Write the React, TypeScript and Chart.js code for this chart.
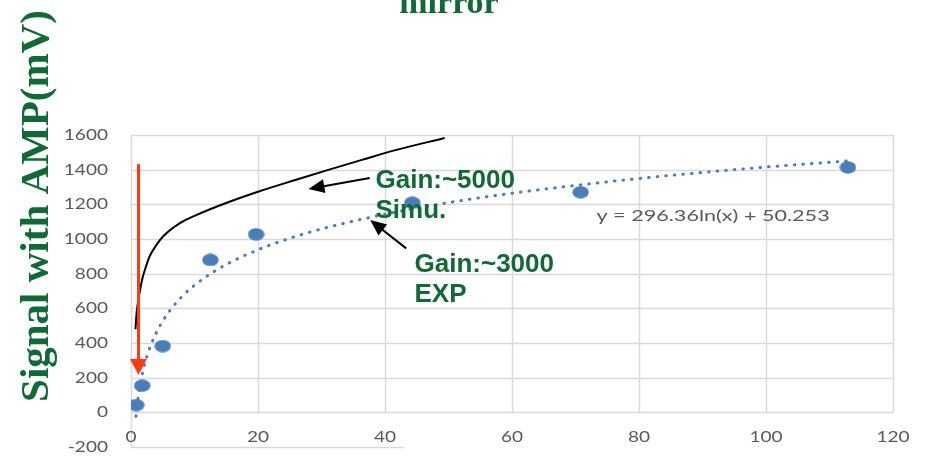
import React, { useEffect, useRef } from "react";
import { Chart, registerables } from "chart.js";

Chart.register(...registerables);

// ---------- data ----------
const xTicks = [0, 20, 40, 60, 80, 100, 120];
const yTicks = [-200, 0, 200, 400, 600, 800, 1000, 1200, 1400, 1600];

// measured points (EXP)
const expX = [0.82, 1.76, 5.0, 12.5, 19.7, 44.3, 70.8, 112.9];
const expY = [42, 154, 382, 879, 1027, 1209, 1270, 1413];

// logarithmic trendline
const trendX = [0.78, 1, 1.25, 1.5, 2, 2.5, 3, 4, 5, 6.5, 8, 10, 12.5, 15, 20, 25, 30, 40, 50, 60, 70, 80, 90, 100, 113];
const trendY = [-23, 50, 116, 170, 256, 322, 376, 461, 527, 605, 667, 733, 799, 853, 938, 1004, 1058, 1143, 1210, 1264, 1309, 1349, 1384, 1415, 1451];

// simulation curve (black)
const simX = [0.71, 0.85, 1.07, 1.5, 1.86, 2.4, 2.91, 4.0, 5.0, 7.64, 10.27, 15.5, 20.0, 26.0, 31.2, 36.5, 41.8, 49.4];
const simY = [479, 560, 629, 720, 782, 845, 898, 965, 1013, 1090, 1138, 1215, 1273, 1342, 1400, 1458, 1514, 1583];

// texts
const titleText = "mirror";
const yTitleText = "Signal with AMP(mV)";
const equationText = "y = 296.36ln(x) + 50.253";
const simLabel = ["Gain:~5000", "Simu."];
const expLabel = ["Gain:~3000", "EXP"];

// annotation anchors in data units [x, y]
const redArrow = [1.18, 1432, 1.18, 215];
const simArrow = [37.6, 1352, 27.95, 1288];
const expArrow = [43.34, 946, 37.67, 1109];
const simLabelAt = [38.5, 1294];
const expLabelAt = [44.65, 811];
const equationAt = [73.3, 1104];
const bottomLineEnd = 43;

// ---------- styles ----------
const GREEN = "#0e6b36";
const BLUE = "#4a7ebb";
const GRID = "#d9d9d9";
const TICK = "#595959";

function drawArrow(ctx: CanvasRenderingContext2D, x0: number, y0: number, x1: number, y1: number, color: string, width: number, headLen: number, headW: number) {
  const dx = x1 - x0, dy = y1 - y0;
  const len = Math.hypot(dx, dy);
  const ux = dx / len, uy = dy / len;
  const bx = x1 - ux * headLen, by = y1 - uy * headLen;
  ctx.save();
  ctx.strokeStyle = color;
  ctx.fillStyle = color;
  ctx.lineWidth = width;
  ctx.beginPath();
  ctx.moveTo(x0, y0);
  ctx.lineTo(bx + ux * 2, by + uy * 2);
  ctx.stroke();
  ctx.beginPath();
  ctx.moveTo(x1, y1);
  ctx.lineTo(bx - uy * headW / 2, by + ux * headW / 2);
  ctx.lineTo(bx + uy * headW / 2, by - ux * headW / 2);
  ctx.closePath();
  ctx.fill();
  ctx.restore();
}

function stretchedText(ctx: CanvasRenderingContext2D, text: string, x: number, y: number, sx: number, align: CanvasTextAlign, baseline: CanvasTextBaseline) {
  ctx.save();
  ctx.translate(x, y);
  ctx.scale(sx, 1);
  ctx.textAlign = align;
  ctx.textBaseline = baseline;
  ctx.fillText(text, 0, 0);
  ctx.restore();
}

const decor = {
  id: "decor",
  beforeDatasetsDraw(chart: any) {
    const { ctx } = chart;
    const xs = chart.scales.x, ys = chart.scales.y;
    ctx.save();
    ctx.strokeStyle = GRID;
    ctx.lineWidth = 1.5;
    const x0 = xs.getPixelForValue(0);
    const x120 = xs.getPixelForValue(120);
    yTicks.forEach((v) => {
      const py = Math.round(ys.getPixelForValue(v)) + 0.5;
      const xe = v === -200 ? xs.getPixelForValue(bottomLineEnd) : x120;
      ctx.beginPath();
      ctx.moveTo(x0, py);
      ctx.lineTo(xe, py);
      ctx.stroke();
    });
    const top = ys.getPixelForValue(1600);
    xTicks.forEach((v) => {
      const px = Math.round(xs.getPixelForValue(v)) + 0.5;
      const ye = v === 0 ? ys.getPixelForValue(-200) : ys.getPixelForValue(0);
      ctx.beginPath();
      ctx.moveTo(px, top);
      ctx.lineTo(px, ye);
      ctx.stroke();
    });
    ctx.restore();
  },
  afterDatasetsDraw(chart: any) {
    const { ctx } = chart;
    const xs = chart.scales.x, ys = chart.scales.y;
    const P = (a: number, b: number) => [xs.getPixelForValue(a), ys.getPixelForValue(b)];

    // tick labels
    ctx.save();
    ctx.fillStyle = TICK;
    ctx.font = '15px Lato';
    yTicks.forEach((v) => {
      stretchedText(ctx, String(v), 108, ys.getPixelForValue(v), 1.27, "right", "middle");
    });
    const xLabY = ys.getPixelForValue(0) + 25;
    xTicks.forEach((v) => {
      stretchedText(ctx, String(v), xs.getPixelForValue(v), xLabY, 1.27, "center", "middle");
    });
    // equation
    ctx.font = '16px Lato';
    const [ex, ey] = P(equationAt[0], equationAt[1]);
    stretchedText(ctx, equationText, ex, ey, 1.35, "left", "alphabetic");
    ctx.restore();

    // arrows
    let a = P(redArrow[0], redArrow[1]), b = P(redArrow[2], redArrow[3]);
    drawArrow(ctx, a[0], a[1], b[0], b[1], "#ff3a12", 3, 16, 17);
    a = P(simArrow[0], simArrow[1]); b = P(simArrow[2], simArrow[3]);
    drawArrow(ctx, a[0], a[1], b[0], b[1], "#000000", 2, 16, 14);
    a = P(expArrow[0], expArrow[1]); b = P(expArrow[2], expArrow[3]);
    drawArrow(ctx, a[0], a[1], b[0], b[1], "#000000", 2, 16, 14);

    // annotation labels
    ctx.save();
    ctx.fillStyle = GREEN;
    ctx.font = 'bold 26px "Liberation Sans", Arial, sans-serif';
    ctx.textAlign = "left";
    ctx.textBaseline = "alphabetic";
    const [sx0, sy0] = P(simLabelAt[0], simLabelAt[1]);
    simLabel.forEach((t, i) => ctx.fillText(t, sx0, sy0 + i * 29.5));
    const [qx0, qy0] = P(expLabelAt[0], expLabelAt[1]);
    expLabel.forEach((t, i) => ctx.fillText(t, qx0, qy0 + i * 30));

    // titles
    ctx.font = 'bold 34px "Liberation Serif", "Times New Roman", serif';
    ctx.textAlign = "center";
    ctx.fillText(titleText, 449, 13);
    ctx.translate(48, 206);
    ctx.rotate(-Math.PI / 2);
    ctx.font = 'bold 41px "Liberation Serif", "Times New Roman", serif';
    ctx.fillText(yTitleText, 0, 0);
    ctx.restore();
  },
};

export default function App() {
  const ref = useRef<HTMLCanvasElement | null>(null);
  useEffect(() => {
    if (!ref.current) return;
    const dot = document.createElement("canvas");
    dot.width = 17;
    dot.height = 13;
    const dctx = dot.getContext("2d")!;
    dctx.fillStyle = BLUE;
    dctx.beginPath();
    dctx.ellipse(8.5, 6.5, 8.2, 6.2, 0, 0, Math.PI * 2);
    dctx.fill();

    const chart = new Chart(ref.current, {
      type: "scatter",
      data: {
        datasets: [
          {
            label: "EXP",
            data: expX.map((x, i) => ({ x, y: expY[i] })),
            pointStyle: dot as any,
            pointRadius: 8,
            showLine: false,
          },
          {
            label: "Simu",
            data: simX.map((x, i) => ({ x, y: simY[i] })),
            showLine: true,
            borderColor: "#000000",
            borderWidth: 2,
            pointRadius: 0,
            cubicInterpolationMode: "monotone",
          },
          {
            label: "Trend",
            data: trendX.map((x, i) => ({ x, y: trendY[i] })),
            showLine: true,
            borderColor: BLUE,
            borderWidth: 3,
            borderDash: [0.6, 8],
            borderCapStyle: "round",
            pointRadius: 0,
            cubicInterpolationMode: "monotone",
          },
        ] as any,
      },
      options: {
        animation: false,
        responsive: false,
        events: [],
        layout: { padding: { left: 131, right: 33, top: 135, bottom: 10 } },
        plugins: { legend: { display: false }, tooltip: { enabled: false } },
        scales: {
          x: { type: "linear", display: false, min: 0, max: 120, ticks: { stepSize: 20 } },
          y: { type: "linear", display: false, min: -200, max: 1600, ticks: { stepSize: 200 } },
        },
      },
      plugins: [decor as any],
    });
    return () => chart.destroy();
  }, []);
  return (
    <div style={{ position: "absolute", left: 0, top: 0, width: 926, height: 457, background: "#fff" }}>
      <canvas ref={ref} width={926} height={457} style={{ display: "block" }} />
    </div>
  );
}
